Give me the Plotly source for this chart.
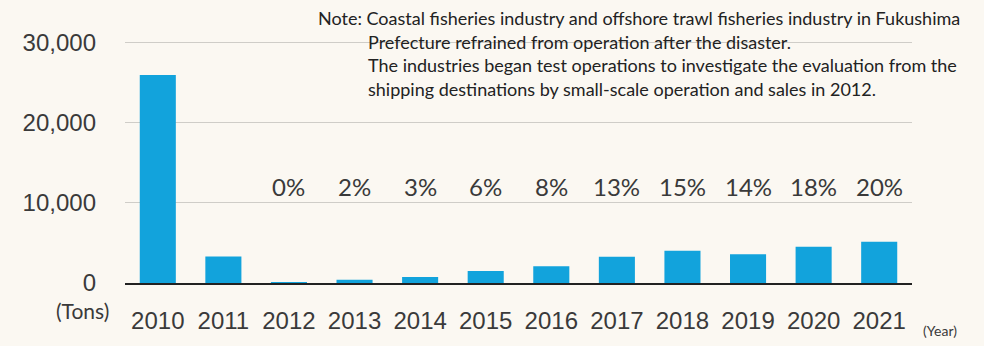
import plotly.graph_objects as go

years = ["2010", "2011", "2012", "2013", "2014", "2015", "2016", "2017", "2018", "2019", "2020", "2021"]
catch_tons = [25900, 3300, 120, 400, 740, 1510, 2090, 3280, 4010, 3580, 4530, 5130]
pct_years = ["2012", "2013", "2014", "2015", "2016", "2017", "2018", "2019", "2020", "2021"]
pct_labels = ["0%", "2%", "3%", "6%", "8%", "13%", "15%", "14%", "18%", "20%"]
y_ticks = [0, 10000, 20000, 30000]
y_ticktext = ["0", "10,000", "20,000", "30,000"]
note_lines = [
    "Note: Coastal fisheries industry and offshore trawl fisheries industry in Fukushima",
    "Prefecture refrained from operation after the disaster.",
    "The industries began test operations to investigate the evaluation from the",
    "shipping destinations by small-scale operation and sales in 2012.",
]

BG = "#fbf8f2"
TXT = "#3a3a3a"

fig = go.Figure()
fig.add_trace(go.Bar(x=years, y=catch_tons, marker=dict(color="#12a3dc", line=dict(width=0)),
                     hoverinfo="x+y"))

PLOT_H = 248
annotations = []
for yr, lab in zip(pct_years, pct_labels):
    annotations.append(dict(x=years.index(yr), xref="x", y=(287 - 189) / PLOT_H, yref="paper", text=lab,
                            showarrow=False, xanchor="center", yanchor="middle",
                            font=dict(family="Lato", size=24, color=TXT)))

note_x_shift = [191, 241, 241, 241]
note_y_shift = [21, -3, -26, -50]
for line, xs, ys in zip(note_lines, note_x_shift, note_y_shift):
    annotations.append(dict(x=0, xref="paper", y=1, yref="paper", xshift=xs, yshift=ys,
                            text=line, showarrow=False, xanchor="left", yanchor="middle",
                            font=dict(family="Lato", size=18, color="#222222")))

annotations.append(dict(x=0, xref="paper", y=0, yref="paper", xshift=-43, yshift=-27,
                        text="(Tons)", showarrow=False, xanchor="center", yanchor="middle",
                        font=dict(family="Lato", size=21, color=TXT)))
annotations.append(dict(x=1, xref="paper", y=0, yref="paper", xshift=28, yshift=-47,
                        text="(Year)", showarrow=False, xanchor="center", yanchor="middle",
                        font=dict(family="Lato", size=14, color=TXT)))

fig.update_layout(
    width=984, height=346,
    margin=dict(l=125, r=72, t=39, b=59),
    paper_bgcolor=BG, plot_bgcolor=BG,
    bargap=0.45,
    showlegend=False,
    annotations=annotations,
    xaxis=dict(type="category", range=[-0.5, len(years) - 0.5], showline=True,
               linecolor="#222222", linewidth=2,
               ticks="", showgrid=False, ticklabelstandoff=15,
               tickfont=dict(family="Liberation Sans", size=24, color=TXT)),
    yaxis=dict(range=[0, 30400], tickvals=y_ticks, ticktext=y_ticktext,
               showgrid=True, gridcolor="#cfcdc8", gridwidth=1, zeroline=False,
               showline=False, ticks="", ticklabelstandoff=28,
               tickfont=dict(family="Liberation Sans", size=24, color=TXT)),
)

fig.write_html("out.html")
